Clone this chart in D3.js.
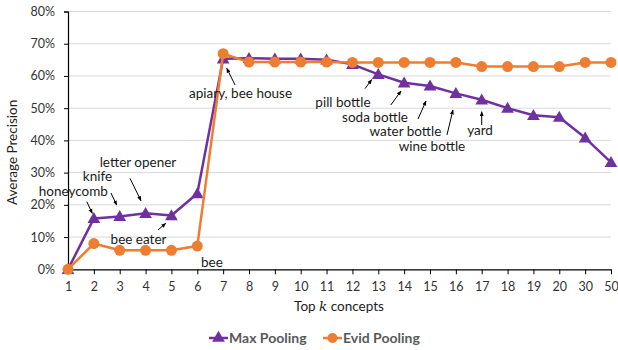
<!DOCTYPE html>
<html>
<head>
<meta charset="utf-8">
<script src="https://cdn.jsdelivr.net/npm/d3@7"></script>
<style>
  html, body { margin: 0; padding: 0; background: #fff; }
  svg { display: block; font-family: Lato, "Open Sans", sans-serif; }
</style>
</head>
<body>
<svg id="chart" width="618" height="350"></svg>
<script>
// Top-k concept counts along the x axis
const categories = ["1","2","3","4","5","6","7","8","9","10","11","12","13","14","15","16","17","18","19","20","30","50"];

// Average precision (%) per k
const maxPooling  = [0, 15.8, 16.4, 17.4, 16.7, 23.5, 65.3, 65.5, 65.3, 65.3, 65.0, 63.6, 60.5, 57.9, 56.9, 54.6, 52.6, 50.0, 47.8, 47.2, 40.8, 33.2];
const evidPooling = [0, 8.0, 5.9, 5.9, 5.9, 7.2, 66.9, 64.3, 64.3, 64.3, 64.3, 64.2, 64.2, 64.2, 64.2, 64.2, 62.9, 62.9, 62.9, 62.9, 64.2, 64.2];

const yTicks = [0, 10, 20, 30, 40, 50, 60, 70, 80];

const seriesNames = ["Max Pooling", "Evid Pooling"];

// Concept names attached to individual points: label, category, series
const noteLabels = ["honeycomb", "knife", "letter opener", "bee eater", "bee", "apiary, bee house",
                    "pill bottle", "soda bottle", "water bottle", "wine bottle", "yard"];
const noteCategories = ["2", "3", "4", "5", "6", "7", "13", "14", "15", "16", "17"];
const noteSeries = [0, 0, 0, 0, 1, 0, 0, 0, 0, 0, 0];

// ---- layout ----
const plot = { left: 68, right: 611, top: 11.5, bottom: 269.3 };
const colors = ["#7030A0", "#ED7D31"];

const svg = d3.select("#chart");

const x = d3.scalePoint().domain(categories).range([plot.left, plot.right]).padding(0);
const y = d3.scaleLinear().domain([0, 80]).range([plot.bottom, plot.top]);

// gridlines
svg.append("g")
  .selectAll("line")
  .data(yTicks.filter(d => d > 0))
  .join("line")
  .attr("x1", plot.left).attr("x2", plot.right)
  .attr("y1", d => y(d)).attr("y2", d => y(d))
  .attr("stroke", "#d9d9d9").attr("stroke-width", 1);

// y axis
const yAxis = svg.append("g")
  .attr("transform", `translate(${plot.left},0)`)
  .call(d3.axisLeft(y).tickValues(yTicks).tickFormat(d => d + "%").tickSize(4).tickPadding(9));
yAxis.select(".domain").attr("stroke", "#000").attr("stroke-width", 1.2);
yAxis.selectAll(".tick line").attr("stroke", "#000");
yAxis.selectAll("text").attr("font-size", 12.5).attr("fill", "#333").attr("font-family", "Lato, sans-serif");

// x axis
const xAxis = svg.append("g")
  .attr("transform", `translate(0,${plot.bottom})`)
  .call(d3.axisBottom(x).tickSize(5).tickPadding(8).tickSizeOuter(0));
xAxis.select(".domain").attr("stroke", "#000").attr("stroke-width", 1.2);
xAxis.selectAll(".tick line").attr("stroke", "#000");
xAxis.selectAll("text").attr("font-size", 12.5).attr("fill", "#333").attr("font-family", "Lato, sans-serif");

// axis titles
svg.append("text")
  .attr("transform", `translate(17,${(plot.top + plot.bottom) / 2 + 12}) rotate(-90)`)
  .attr("text-anchor", "middle")
  .attr("font-size", 13.5).attr("fill", "#222")
  .text("Average Precision");

const xTitle = svg.append("text")
  .attr("x", 339).attr("y", 311)
  .attr("text-anchor", "middle")
  .attr("font-size", 13.5).attr("fill", "#222");
xTitle.append("tspan").text("Top ");
xTitle.append("tspan").attr("font-family", "DejaVu Serif, serif").attr("font-style", "italic").text("k");
xTitle.append("tspan").text(" concepts");

// series
const triangle = d3.symbol().type(d3.symbolTriangle).size(70);
const seriesData = [maxPooling, evidPooling];
const line = d3.line().x((d, i) => x(categories[i])).y(d => y(d));

seriesData.forEach((vals, s) => {
  const g = svg.append("g");
  g.append("path")
    .datum(vals)
    .attr("d", line)
    .attr("fill", "none")
    .attr("stroke", colors[s])
    .attr("stroke-width", 2.5)
    .attr("stroke-linejoin", "round");
  if (s === 0) {
    g.selectAll("path.m")
      .data(vals)
      .join("path")
      .attr("class", "m")
      .attr("d", triangle)
      .attr("transform", (d, i) => `translate(${x(categories[i])},${y(d) + 1})`)
      .attr("fill", colors[s]);
  } else {
    g.selectAll("circle")
      .data(vals)
      .join("circle")
      .attr("cx", (d, i) => x(categories[i]))
      .attr("cy", d => y(d))
      .attr("r", 5.5)
      .attr("fill", colors[s]);
  }
});

// annotation placement relative to the marked point: text centre/baseline, arrow tail and head
const noteLayout = [
  { tx: -20.5, ty: -22.7, ax1: -7,    ay1: -16.7, ax2: -1.6, ay2: -5 },
  { tx: -22.2, ty: -35.7, ax1: -8.7,  ay1: -23.4, ax2: -3,   ay2: -11.4 },
  { tx: -7.6,  ty: -46.5, ax1: -15.6, ay1: -34.9, ax2: -4.6, ay2: -12.5 },
  { tx: -32.9, ty: 28.8,  ax1: -13.4, ay1: 14.5,  ax2: -5.7, ay2: 7.8 },
  { tx: 14.7,  ty: 20.7,  ax1: null },
  { tx: 17.4,  ty: 39.1,  ax1: 11.9,  ay1: 26.1,  ax2: 3.6,  ay2: 9.4 },
  { tx: -35.3, ty: 32.7,  ax1: -13.3, ay1: 14.3,  ax2: -6.6, ay2: 5.3 },
  { tx: -29.1, ty: 39.3,  ax1: -13.4, ay1: 22.3,  ax2: -3.1, ay2: 8.3 },
  { tx: -24.5, ty: 50.1,  ax1: -12,   ay1: 33.1,  ax2: -4,   ay2: 15.1 },
  { tx: -23.9, ty: 57.2,  ax1: -8.9,  ay1: 41.6,  ax2: -2.9, ay2: 16.6 },
  { tx: -1.7,  ty: 35.2,  ax1: 0,     ay1: 25.2,  ax2: 0,    ay2: 11.9 }
];

svg.append("defs").append("marker")
  .attr("id", "arrowHead")
  .attr("viewBox", "0 0 10 10")
  .attr("refX", 9).attr("refY", 5)
  .attr("markerWidth", 5).attr("markerHeight", 5)
  .attr("orient", "auto")
  .append("path").attr("d", "M0,1 L10,5 L0,9 Z").attr("fill", "#000");

const notes = svg.append("g");
noteLabels.forEach((label, i) => {
  const vals = seriesData[noteSeries[i]];
  const ci = categories.indexOf(noteCategories[i]);
  const px = x(noteCategories[i]);
  const py = y(vals[ci]);
  const L = noteLayout[i];
  if (L.ax1 !== null) {
    notes.append("line")
      .attr("x1", px + L.ax1).attr("y1", py + L.ay1)
      .attr("x2", px + L.ax2).attr("y2", py + L.ay2)
      .attr("stroke", "#000").attr("stroke-width", 1)
      .attr("marker-end", "url(#arrowHead)");
  }
  notes.append("text")
    .attr("x", px + L.tx).attr("y", py + L.ty)
    .attr("text-anchor", "middle")
    .attr("font-size", 13.5).attr("fill", "#1a1a1a")
    .text(label);
});

// legend
const legendItems = [
  { x: 209, name: seriesNames[0] },
  { x: 323, name: seriesNames[1] }
];
const legend = svg.append("g");
legendItems.forEach((item, s) => {
  const ly = 338;
  legend.append("line")
    .attr("x1", item.x).attr("x2", item.x + 19)
    .attr("y1", ly).attr("y2", ly)
    .attr("stroke", colors[s]).attr("stroke-width", 2.5);
  if (s === 0) {
    legend.append("path").attr("d", triangle)
      .attr("transform", `translate(${item.x + 9.5},${ly})`)
      .attr("fill", colors[s]);
  } else {
    legend.append("circle").attr("cx", item.x + 9.5).attr("cy", ly).attr("r", 5)
      .attr("fill", colors[s]);
  }
  legend.append("text")
    .attr("x", item.x + 20).attr("y", ly + 5)
    .attr("font-size", 14).attr("font-weight", "bold").attr("fill", "#595959")
    .text(item.name);
});
</script>
</body>
</html>
